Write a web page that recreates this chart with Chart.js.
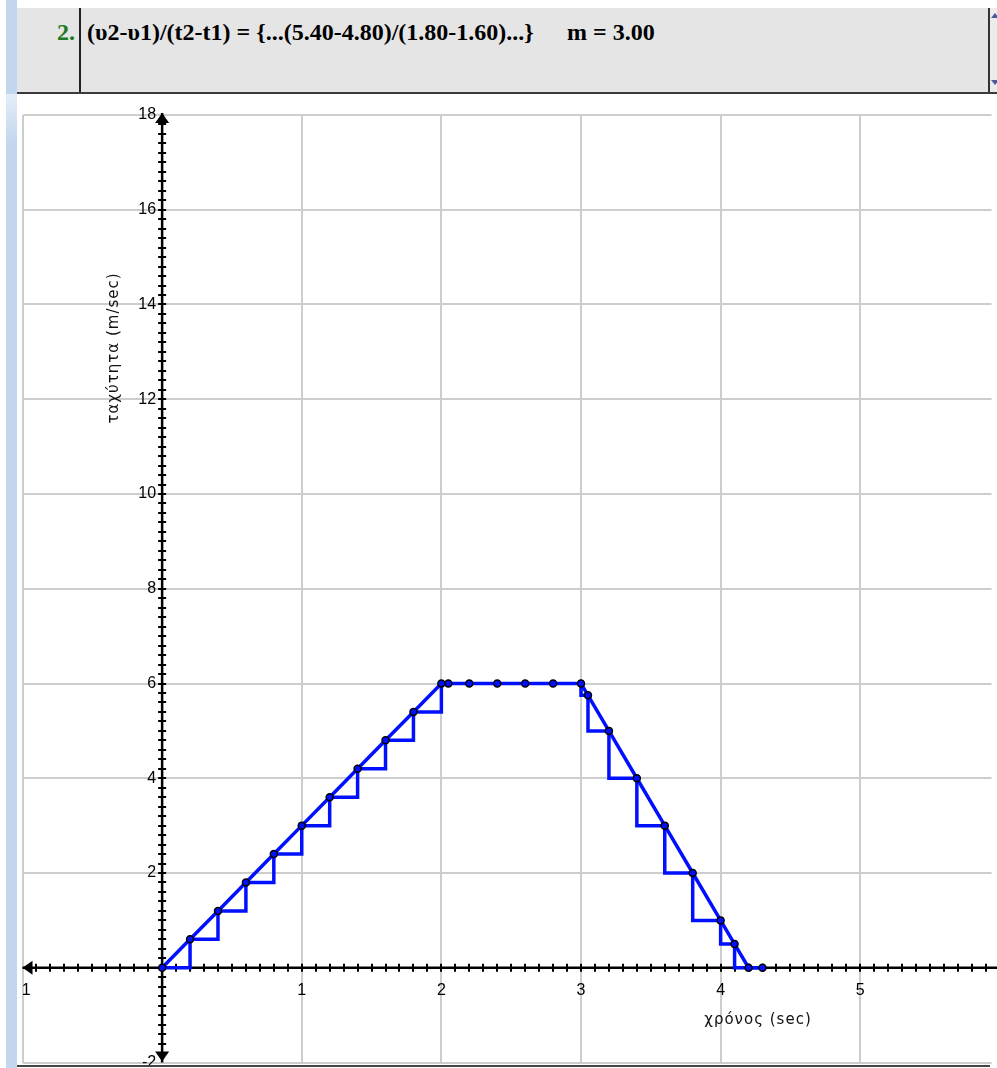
<!DOCTYPE html>
<html>
<head>
<meta charset="utf-8">
<title>ταχύτητα - χρόνος</title>
<script src="https://cdn.jsdelivr.net/npm/chart.js@4.4.1/dist/chart.umd.min.js"></script>
<style>
html, body { margin: 0; padding: 0; background: #fff; }
body { width: 997px; height: 1068px; position: relative; overflow: hidden; }
#strip { position: absolute; left: 6px; top: 0; width: 11px; height: 1068px; background: #c2d6ed; }
#stripLite { position: absolute; left: 6px; top: 94px; width: 11px; height: 50px; background: linear-gradient(#e4edf8, #c2d6ed); }
#header { position: absolute; left: 17px; top: 8px; width: 980px; height: 84px; background: #e5e5e5; border-bottom: 2px solid #3a3a3a; }
#divider { position: absolute; left: 62px; top: 0; width: 2px; height: 84px; background: #222; }
#scroll { position: absolute; left: 971px; top: 0; width: 9px; height: 84px; border-left: 2px solid #333; background: #ececec; }
.arrowUp, .arrowDown { position: absolute; left: 1px; width: 0; height: 0; border-left: 4px solid transparent; border-right: 4px solid transparent; }
.arrowUp { top: 5px; border-bottom: 5px solid #4a5aa0; }
.arrowDown { top: 72px; border-top: 5px solid #4a5aa0; }
.hdr { position: absolute; top: 10px; font-family: "Liberation Serif", "DejaVu Serif", serif; font-weight: bold; font-size: 24px; line-height: 28px; white-space: nowrap; color: #000; }
#num { left: 40px; color: #1d7a1d; }
#formula { left: 70px; }
#slope { left: 550px; }
#bottomLine { position: absolute; left: 17px; top: 1065px; width: 973px; height: 2px; background: #444; }
canvas { position: absolute; left: 17px; top: 95px; }
</style>
</head>
<body>
<div id="strip"></div>
<div id="stripLite"></div>
<div id="header">
  <div id="divider"></div>
  <div class="hdr" id="num">2.</div>
  <div class="hdr" id="formula"></div>
  <div class="hdr" id="slope"></div>
  <div id="scroll"><div class="arrowUp"></div><div class="arrowDown"></div></div>
</div>
<canvas id="speedChart" width="980" height="973"></canvas>
<div id="bottomLine"></div>
<script>
// Επιτάχυνση: t 0 έως 2 s
const rampTime  = [0, 0.2, 0.4, 0.6, 0.8, 1.0, 1.2, 1.4, 1.6, 1.8, 2.0];
const rampSpeed = [0, 0.6, 1.2, 1.8, 2.4, 3.0, 3.6, 4.2, 4.8, 5.4, 6.0];
// Σταθερή ταχύτητα
const flatTime  = [2.05, 2.2, 2.4, 2.6, 2.8, 3.0];
const flatSpeed = [6, 6, 6, 6, 6, 6];
// Επιβράδυνση
const fallTime  = [3.05, 3.2, 3.4, 3.6, 3.8, 4.0, 4.1, 4.2, 4.3];
const fallSpeed = [5.75, 5, 4, 3, 2, 1, 0.5, 0, 0];

// άξονες
const xTickLabels = [-1, 1, 2, 3, 4, 5];
const yTickLabels = [-2, 2, 4, 6, 8, 10, 12, 14, 16, 18];
const xTitle = 'χρόνος (sec)';
const yTitle = 'ταχύτητα (m/sec)';

// κλίση στο διάστημα 1.60 - 1.80
const i1 = 8, i2 = 9;
const m = (rampSpeed[i2] - rampSpeed[i1]) / (rampTime[i2] - rampTime[i1]);
document.getElementById('formula').textContent =
  '(υ2-υ1)/(t2-t1) = {...(' + rampSpeed[i2].toFixed(2) + '-' + rampSpeed[i1].toFixed(2) + ')/(' +
  rampTime[i2].toFixed(2) + '-' + rampTime[i1].toFixed(2) + ')...}';
document.getElementById('slope').textContent = 'm = ' + m.toFixed(2);

const pts = (ts, vs) => ts.map((t, i) => ({ x: t, y: vs[i] }));
const mainLine = pts(rampTime, rampSpeed).concat(pts(flatTime, flatSpeed), pts(fallTime, fallSpeed));
const rampSteps = pts(rampTime, rampSpeed);
const fallSteps = pts([flatTime[flatTime.length - 1]], [flatSpeed[flatSpeed.length - 1]]).concat(pts(fallTime, fallSpeed));

const BLUE = '#0010ff';
const labelFont = '16px "Liberation Sans", Arial, sans-serif';
const titleFont = '15px "DejaVu Sans", sans-serif';

// άξονες μέσα από την αρχή, με βέλη και υποδιαιρέσεις
const originAxes = {
  id: 'originAxes',
  beforeDatasetsDraw(chart) {
    const ctx = chart.ctx;
    const xs = chart.scales.x, ys = chart.scales.y;
    const x0 = xs.getPixelForValue(0), y0 = ys.getPixelForValue(0);
    ctx.save();
    ctx.strokeStyle = '#000';
    ctx.fillStyle = '#000';
    ctx.lineWidth = 2.5;
    ctx.beginPath();
    ctx.moveTo(xs.left, y0); ctx.lineTo(chart.width, y0);
    ctx.moveTo(x0, ys.top - 2); ctx.lineTo(x0, ys.bottom);
    ctx.stroke();

    ctx.lineWidth = 2;
    ctx.beginPath();
    for (let k = -9; k <= 59; k++) {
      if (k === 0) continue;
      const px = Math.round(xs.getPixelForValue(k / 10));
      ctx.moveTo(px, y0 - 4); ctx.lineTo(px, y0 + 4);
    }
    for (let k = -9; k <= 89; k++) {
      if (k === 0) continue;
      const py = Math.round(ys.getPixelForValue(k / 5));
      ctx.moveTo(x0 - 4, py); ctx.lineTo(x0 + 4, py);
    }
    ctx.stroke();

    // αριθμοί (το -1 κόβεται στο αριστερό άκρο)
    ctx.font = labelFont;
    ctx.textBaseline = 'middle';
    ctx.save();
    ctx.beginPath();
    ctx.rect(xs.left, 0, chart.width, chart.height);
    ctx.clip();
    ctx.textAlign = 'center';
    xTickLabels.forEach(v => ctx.fillText(String(v), xs.getPixelForValue(v) + (v < 0 ? 1 : 0), y0 + 23));
    ctx.restore();
    ctx.textAlign = 'right';
    yTickLabels.forEach(v => ctx.fillText(String(v), x0 - 6, ys.getPixelForValue(v)));

    // βέλη
    ctx.beginPath();
    ctx.moveTo(x0, ys.top - 2); ctx.lineTo(x0 - 7, ys.top + 8); ctx.lineTo(x0 + 7, ys.top + 8); ctx.closePath();
    ctx.moveTo(x0, ys.bottom - 1); ctx.lineTo(x0 - 7, ys.bottom - 11); ctx.lineTo(x0 + 7, ys.bottom - 11); ctx.closePath();
    ctx.moveTo(xs.left, y0); ctx.lineTo(xs.left + 10, y0 - 7); ctx.lineTo(xs.left + 10, y0 + 7); ctx.closePath();
    ctx.fill();

    // τίτλοι αξόνων
    ctx.font = titleFont;
    ctx.letterSpacing = '1px';
    ctx.fillStyle = '#111';
    ctx.textAlign = 'center';
    ctx.fillText(xTitle, 741, 925);
    ctx.translate(97, 253);
    ctx.rotate(-Math.PI / 2);
    ctx.fillText(yTitle, 0, 0);
    ctx.restore();
  }
};

new Chart(document.getElementById('speedChart').getContext('2d'), {
  type: 'line',
  data: {
    datasets: [
      {
        data: mainLine,
        borderColor: BLUE,
        borderWidth: 3.5,
        pointRadius: 3.5,
        pointBackgroundColor: BLUE,
        pointBorderColor: '#000',
        pointBorderWidth: 1.5
      },
      {
        data: rampSteps,
        stepped: 'before',
        borderColor: BLUE,
        borderWidth: 3.5,
        pointRadius: 0
      },
      {
        data: fallSteps,
        stepped: 'after',
        borderColor: BLUE,
        borderWidth: 3.5,
        pointRadius: 0
      }
    ]
  },
  options: {
    responsive: false,
    animation: false,
    events: [],
    layout: { padding: { left: 3, right: 0, top: 20, bottom: 1 } },
    plugins: { legend: { display: false }, tooltip: { enabled: false } },
    scales: {
      x: {
        type: 'linear',
        min: -1,
        max: 5.94,
        ticks: { display: false, stepSize: 1 },
        border: { display: false },
        grid: {
          drawTicks: false,
          lineWidth: 2,
          color: c => Number.isInteger(c.tick.value) ? '#cdcdcd' : 'rgba(0,0,0,0)'
        }
      },
      y: {
        type: 'linear',
        min: -2,
        max: 18,
        ticks: { display: false, stepSize: 2 },
        border: { display: false },
        grid: { drawTicks: false, lineWidth: 2, color: '#cdcdcd' }
      }
    }
  },
  plugins: [originAxes]
});
</script>
</body>
</html>
